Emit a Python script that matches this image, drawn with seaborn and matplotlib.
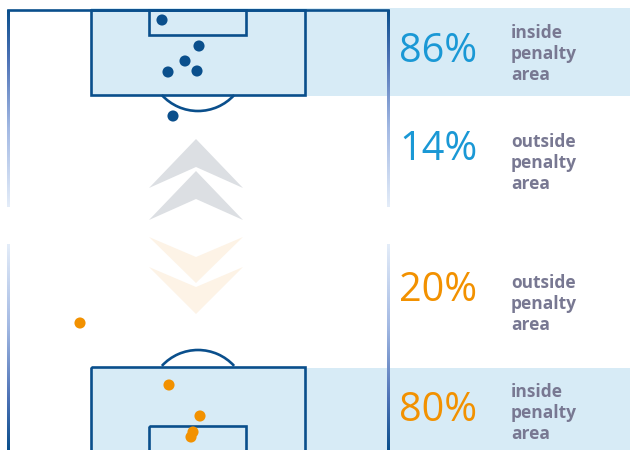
import numpy as np
import pandas as pd
import matplotlib
matplotlib.use("Agg")
import matplotlib.pyplot as plt
import seaborn as sns
from matplotlib.patches import Rectangle, Arc, Polygon
from matplotlib.colors import LinearSegmentedColormap

# ---------------- data ----------------
teams = ["attack", "defence"]
attack_x = [162, 199, 185, 168, 197, 173]
attack_y = [20, 46, 61, 72, 71, 116]
defence_x = [80, 169, 200, 193, 191]
defence_y = [323, 385, 416, 432, 437]
attack_pcts = [86, 14]
attack_labels = ["inside\npenalty\narea", "outside\npenalty\narea"]
defence_pcts = [20, 80]
defence_labels = ["outside\npenalty\narea", "inside\npenalty\narea"]

# ---------------- style ----------------
sns.set_theme(style="white")
plt.rcParams['font.family'] = ['Open Sans', 'DejaVu Sans']

DARK = "#0a4f8c"
FILL = "#d7ebf6"
BLUE_TXT = "#1a98d5"
ORANGE = "#f29100"
LABEL = "#787892"
GRAY_CHEV = "#dcdfe3"
ORANGE_CHEV = "#fdf3e6"

fig = plt.figure(figsize=(6.3, 4.5), dpi=100)
ax = fig.add_axes([0, 0, 1, 1])

# background bands
ax.add_patch(Rectangle((91, 8), 539, 88, color=FILL, lw=0, zorder=0))
ax.add_patch(Rectangle((91, 368), 539, 82, color=FILL, lw=0, zorder=0))

LW = 1.9
# top pitch
ax.plot([8, 388], [10, 10], color=DARK, lw=LW, solid_capstyle="projecting", zorder=2)
ax.add_patch(Rectangle((91, 10), 214, 85, fill=False, ec=DARK, lw=LW, zorder=2))
ax.add_patch(Rectangle((149, 10), 97, 25, fill=False, ec=DARK, lw=LW, zorder=2))
ax.add_patch(Arc((198, 62), 98, 98, theta1=42.5, theta2=137.5, ec=DARK, lw=LW, zorder=2))
# bottom pitch
ax.add_patch(Rectangle((91, 367), 214, 100, fill=False, ec=DARK, lw=LW, zorder=2))
ax.add_patch(Rectangle((149, 426), 97, 40, fill=False, ec=DARK, lw=LW, zorder=2))
ax.add_patch(Arc((198, 399), 98, 98, theta1=222.5, theta2=317.5, ec=DARK, lw=LW, zorder=2))

# gradient sidelines (image strips)
cmap = LinearSegmentedColormap.from_list(
    "side", [(0, DARK), (0.25, "#4d72b6"), (0.6, "#a3b9e3"), (1, "#e4edf9")])
grad = np.linspace(0, 1, 256).reshape(-1, 1)

def grad_line(x, y0, y1, reverse=False):
    g = grad[::-1] if reverse else grad
    ax.imshow(g, cmap=cmap, extent=[x - 1.2, x + 1.2, y1, y0], aspect="auto",
              interpolation="bilinear", zorder=2)

for xs in (8, 388):
    grad_line(xs, 10, 207)
    grad_line(xs, 244, 450, reverse=True)

# chevrons
def chevron(cx, tip_y, notch_y, apex_y, color):
    pts = [(cx - 47, tip_y), (cx, apex_y), (cx + 47, tip_y), (cx, notch_y)]
    ax.add_patch(Polygon(pts, closed=True, color=color, lw=0, zorder=1))

chevron(196, 188, 167, 139, GRAY_CHEV)
chevron(196, 220, 199, 171, GRAY_CHEV)
chevron(196, 237, 257, 283, ORANGE_CHEV)
chevron(196, 267, 287, 314, ORANGE_CHEV)

# shots
shots = pd.DataFrame({
    "x": attack_x + defence_x,
    "y": attack_y + defence_y,
    "team": [teams[0]] * len(attack_x) + [teams[1]] * len(defence_x),
})
sns.scatterplot(data=shots, x="x", y="y", hue="team",
                palette={teams[0]: DARK, teams[1]: ORANGE},
                s=64, linewidth=0, legend=False, ax=ax, zorder=3)
ax.set_xlim(0, 630)
ax.set_ylim(450, 0)
ax.set_aspect("auto")
ax.axis("off")

# text
num_y = [52, 150, 291, 411]
lab_y = [54, 163, 304, 413]
pcts = attack_pcts + defence_pcts
labels = attack_labels + defence_labels
cols = [BLUE_TXT, BLUE_TXT, ORANGE, ORANGE]
for p, l, c, ny, ly in zip(pcts, labels, cols, num_y, lab_y):
    ax.text(399, ny, f"{p}%", color=c, fontsize=28.5, va="center", ha="left",
            zorder=4)
    ax.text(511, ly, l, color=LABEL, fontsize=12.5, fontweight="bold",
            va="center", ha="left", linespacing=1.22, zorder=4)

fig.savefig("out.png", dpi=100)
